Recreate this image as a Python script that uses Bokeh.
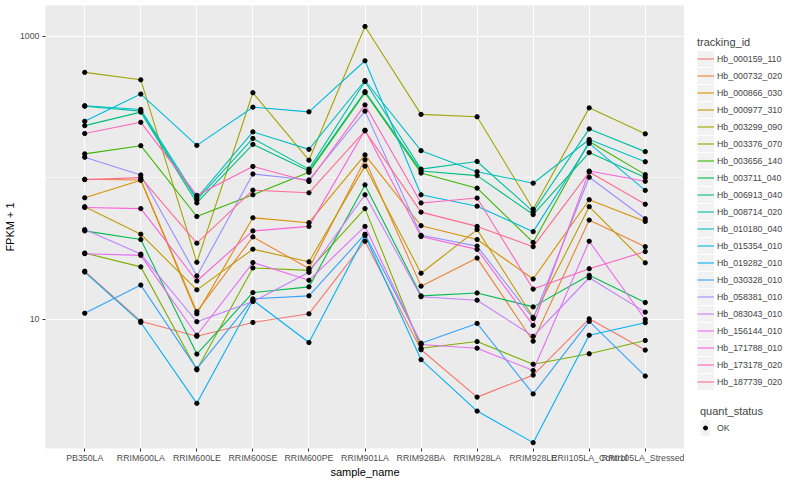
from bokeh.plotting import figure
from bokeh.layouts import row
from bokeh.models import (Range1d, FactorRange, FixedTicker, NumeralTickFormatter,
                          Legend, LegendItem, ColumnDataSource)
from bokeh.embed import file_html
from bokeh.resources import INLINE

categories = ["PB350LA", "RRIM600LA", "RRIM600LE", "RRIM600SE", "RRIM600PE",
              "RRIM901LA", "RRIM928BA", "RRIM928LA", "RRIM928LE",
              "RRII105LA_Control", "RRII105LA_Stressed"]

tracking_ids = ["Hb_000159_110", "Hb_000732_020", "Hb_000866_030", "Hb_000977_310",
                "Hb_003299_090", "Hb_003376_070", "Hb_003656_140", "Hb_003711_040",
                "Hb_006913_040", "Hb_008714_020", "Hb_010180_040", "Hb_015354_010",
                "Hb_019282_010", "Hb_030328_010", "Hb_058381_010", "Hb_083043_010",
                "Hb_156144_010", "Hb_171788_010", "Hb_173178_020", "Hb_187739_020"]

palette = ["#F8766D", "#EA8331", "#D89000", "#C09B00", "#A3A500", "#7CAE00",
           "#39B600", "#00BB4E", "#00BF7D", "#00C1A3", "#00BFC4", "#00BAE0",
           "#00B0F6", "#35A2FF", "#9590FF", "#C77CFF", "#E76BF3", "#FA62DB",
           "#FF62BC", "#FF6C91"]

# FPKM + 1 per sample, one list per gene
hb_000159_110 = [21.8, 9.67, 7.56, 9.47, 10.9, 35.5, 6.07, 2.81, 4.02, 10.05, 6.04]
hb_000732_020 = [97.3, 96.2, 11.3, 38.1, 22.8, 133.6, 17.1, 27.0, 6.98, 50.1, 32.5]
hb_000866_030 = [72.0, 95.8, 10.9, 52.0, 48.0, 144.7, 45.7, 36.5, 19.2, 69.8, 49.0]
hb_000977_310 = [62.3, 39.8, 16.1, 31.2, 25.4, 120.5, 21.1, 42.9, 10.3, 62.3, 25.0]
hb_003299_090 = [554.0, 491.0, 25.2, 398.0, 132.7, 1169.0, 279.6, 269.1, 59.8, 311.0, 203.8]
hb_003376_070 = [29.3, 23.4, 4.38, 23.0, 22.1, 60.4, 6.23, 6.94, 4.80, 5.69, 7.06]
hb_003656_140 = [147.1, 168.1, 53.1, 75.6, 108.9, 398.3, 107.7, 84.2, 34.8, 180.1, 105.0]
hb_003711_040 = [42.0, 36.5, 5.66, 15.4, 16.9, 88.8, 14.6, 15.3, 12.2, 20.4, 13.1]
hb_006913_040 = [232.9, 290.1, 66.2, 171.6, 111.2, 404.7, 111.2, 103.3, 54.8, 150.2, 100.0]
hb_008714_020 = [319.5, 294.9, 69.5, 189.0, 114.8, 477.5, 114.8, 130.0, 57.5, 220.9, 152.6]
hb_010180_040 = [322.0, 303.0, 71.7, 210.4, 158.3, 485.3, 155.0, 110.1, 91.3, 185.9, 129.4]
hb_015354_010 = [249.9, 389.4, 168.9, 314.5, 291.6, 669.2, 75.6, 62.8, 41.5, 174.4, 81.2]
hb_019282_010 = [21.5, 9.47, 2.54, 13.6, 6.83, 38.9, 5.17, 2.24, 1.34, 7.69, 9.43]
hb_030328_010 = [11.0, 17.4, 4.45, 13.9, 14.6, 39.8, 6.76, 9.32, 2.96, 9.63, 3.96]
hb_058381_010 = [139.2, 104.3, 20.2, 106.0, 96.2, 294.9, 39.1, 32.8, 10.1, 100.5, 51.2]
hb_083043_010 = [42.9, 28.8, 9.58, 13.3, 21.4, 75.6, 14.4, 13.6, 7.56, 19.6, 11.2]
hb_156144_010 = [29.0, 28.2, 7.69, 25.1, 18.8, 45.2, 6.62, 6.23, 4.33, 35.5, 9.94]
hb_171788_010 = [61.5, 60.4, 18.6, 42.0, 45.2, 216.3, 38.3, 31.1, 9.03, 111.2, 94.2]
hb_173178_020 = [204.8, 245.9, 74.9, 119.9, 93.8, 326.2, 66.2, 71.7, 16.3, 22.7, 30.0]
hb_187739_020 = [96.7, 100.0, 34.4, 81.5, 78.1, 214.0, 57.0, 45.2, 32.5, 109.4, 64.8]

series_values = [hb_000159_110, hb_000732_020, hb_000866_030, hb_000977_310,
                 hb_003299_090, hb_003376_070, hb_003656_140, hb_003711_040,
                 hb_006913_040, hb_008714_020, hb_010180_040, hb_015354_010,
                 hb_019282_010, hb_030328_010, hb_058381_010, hb_083043_010,
                 hb_156144_010, hb_171788_010, hb_173178_020, hb_187739_020]

quant_status = ["OK"]
y_ticks = [10, 1000]
y_minor = [100]

FONT = "Liberation Sans"
H = 484

p = figure(width=684, height=H,
           x_range=FactorRange(factors=categories, range_padding=0.2,
                               range_padding_units="absolute"),
           y_range=Range1d(1.218, 1645.0), y_axis_type="log",
           output_backend="svg", toolbar_location=None,
           min_border_left=45, min_border_right=0,
           min_border_top=5, min_border_bottom=36)

p.background_fill_color = "#EBEBEB"
p.border_fill_color = "white"
p.outline_line_color = None

p.xgrid.grid_line_color = "white"
p.xgrid.grid_line_width = 1.1
p.ygrid.grid_line_color = "white"
p.ygrid.grid_line_width = 1.1
p.ygrid.minor_grid_line_color = "white"
p.ygrid.minor_grid_line_width = 0.55

p.yaxis.ticker = FixedTicker(ticks=y_ticks, minor_ticks=y_minor)
p.yaxis.formatter = NumeralTickFormatter(format="0")

for ax in (p.xaxis, p.yaxis):
    ax.axis_line_color = None
    ax.major_tick_line_color = "#333333"
    ax.major_tick_out = 3
    ax.major_tick_in = 0
    ax.minor_tick_line_color = None
    ax.major_label_text_color = "#4D4D4D"
    ax.major_label_text_font = FONT
    ax.major_label_text_font_size = "8.8px"
    ax.major_label_standoff = 2
    ax.axis_label_text_font = FONT
    ax.axis_label_text_font_size = "11px"
    ax.axis_label_text_font_style = "normal"
    ax.axis_label_text_color = "black"
    ax.axis_label_standoff = 2

p.xaxis.axis_label = "sample_name"
p.xaxis.major_label_standoff = 1
p.xaxis.axis_label_standoff = 0
p.yaxis.axis_label = "FPKM + 1"
p.yaxis.axis_label_standoff = 1

for vals, col in zip(series_values, palette):
    src = ColumnDataSource(dict(x=categories, y=vals))
    p.line("x", "y", source=src, line_color=col, line_width=1.1)

pts_x = []
pts_y = []
for vals in series_values:
    pts_x.extend(categories)
    pts_y.extend(vals)
p.scatter(x=pts_x, y=pts_y, size=4.3, color="black")

# ---- legend panel (separate narrow figure to the right) ----
lg = figure(width=100, height=H, x_range=(0, 1), y_range=(0, 1),
            output_backend="svg", toolbar_location=None,
            x_axis_location=None, y_axis_location=None,
            min_border_left=0, min_border_right=0,
            min_border_top=0, min_border_bottom=0)
lg.background_fill_color = "white"
lg.border_fill_color = "white"
lg.outline_line_color = None
lg.grid.visible = False

# placeholder renderers (outside the visible range) used only for legend keys
key_bg = lg.line(x=[-10, -9], y=[-10, -10], line_color="#F2F2F2", line_width=16, line_cap="butt")
key_lines = [lg.line(x=[-10, -9], y=[-10, -10], line_color=c, line_width=1.1) for c in palette]
key_pt = lg.scatter(x=[-10], y=[-10], size=4.3, color="black")

legend_style = dict(border_line_color=None, background_fill_alpha=0, padding=0,
                    margin=0, spacing=0, glyph_height=17, label_height=17,
                    label_text_font=FONT, label_text_font_size="8.8px",
                    title_text_font=FONT, title_text_font_size="11px",
                    title_text_font_style="normal", title_standoff=2)

legend1 = Legend(items=[LegendItem(label=n, renderers=[key_bg, r])
                        for n, r in zip(tracking_ids, key_lines)],
                 title="tracking_id", location=(13, 58),
                 glyph_width=17, label_standoff=3, **legend_style)
legend2 = Legend(items=[LegendItem(label=s, renderers=[key_bg, key_pt])
                        for s in quant_status],
                 title="quant_status", location=(16, 12),
                 glyph_width=10, label_standoff=7, **legend_style)
lg.add_layout(legend1)
lg.add_layout(legend2)

layout = row(p, lg)
open("out.html", "w").write(file_html(layout, INLINE))
